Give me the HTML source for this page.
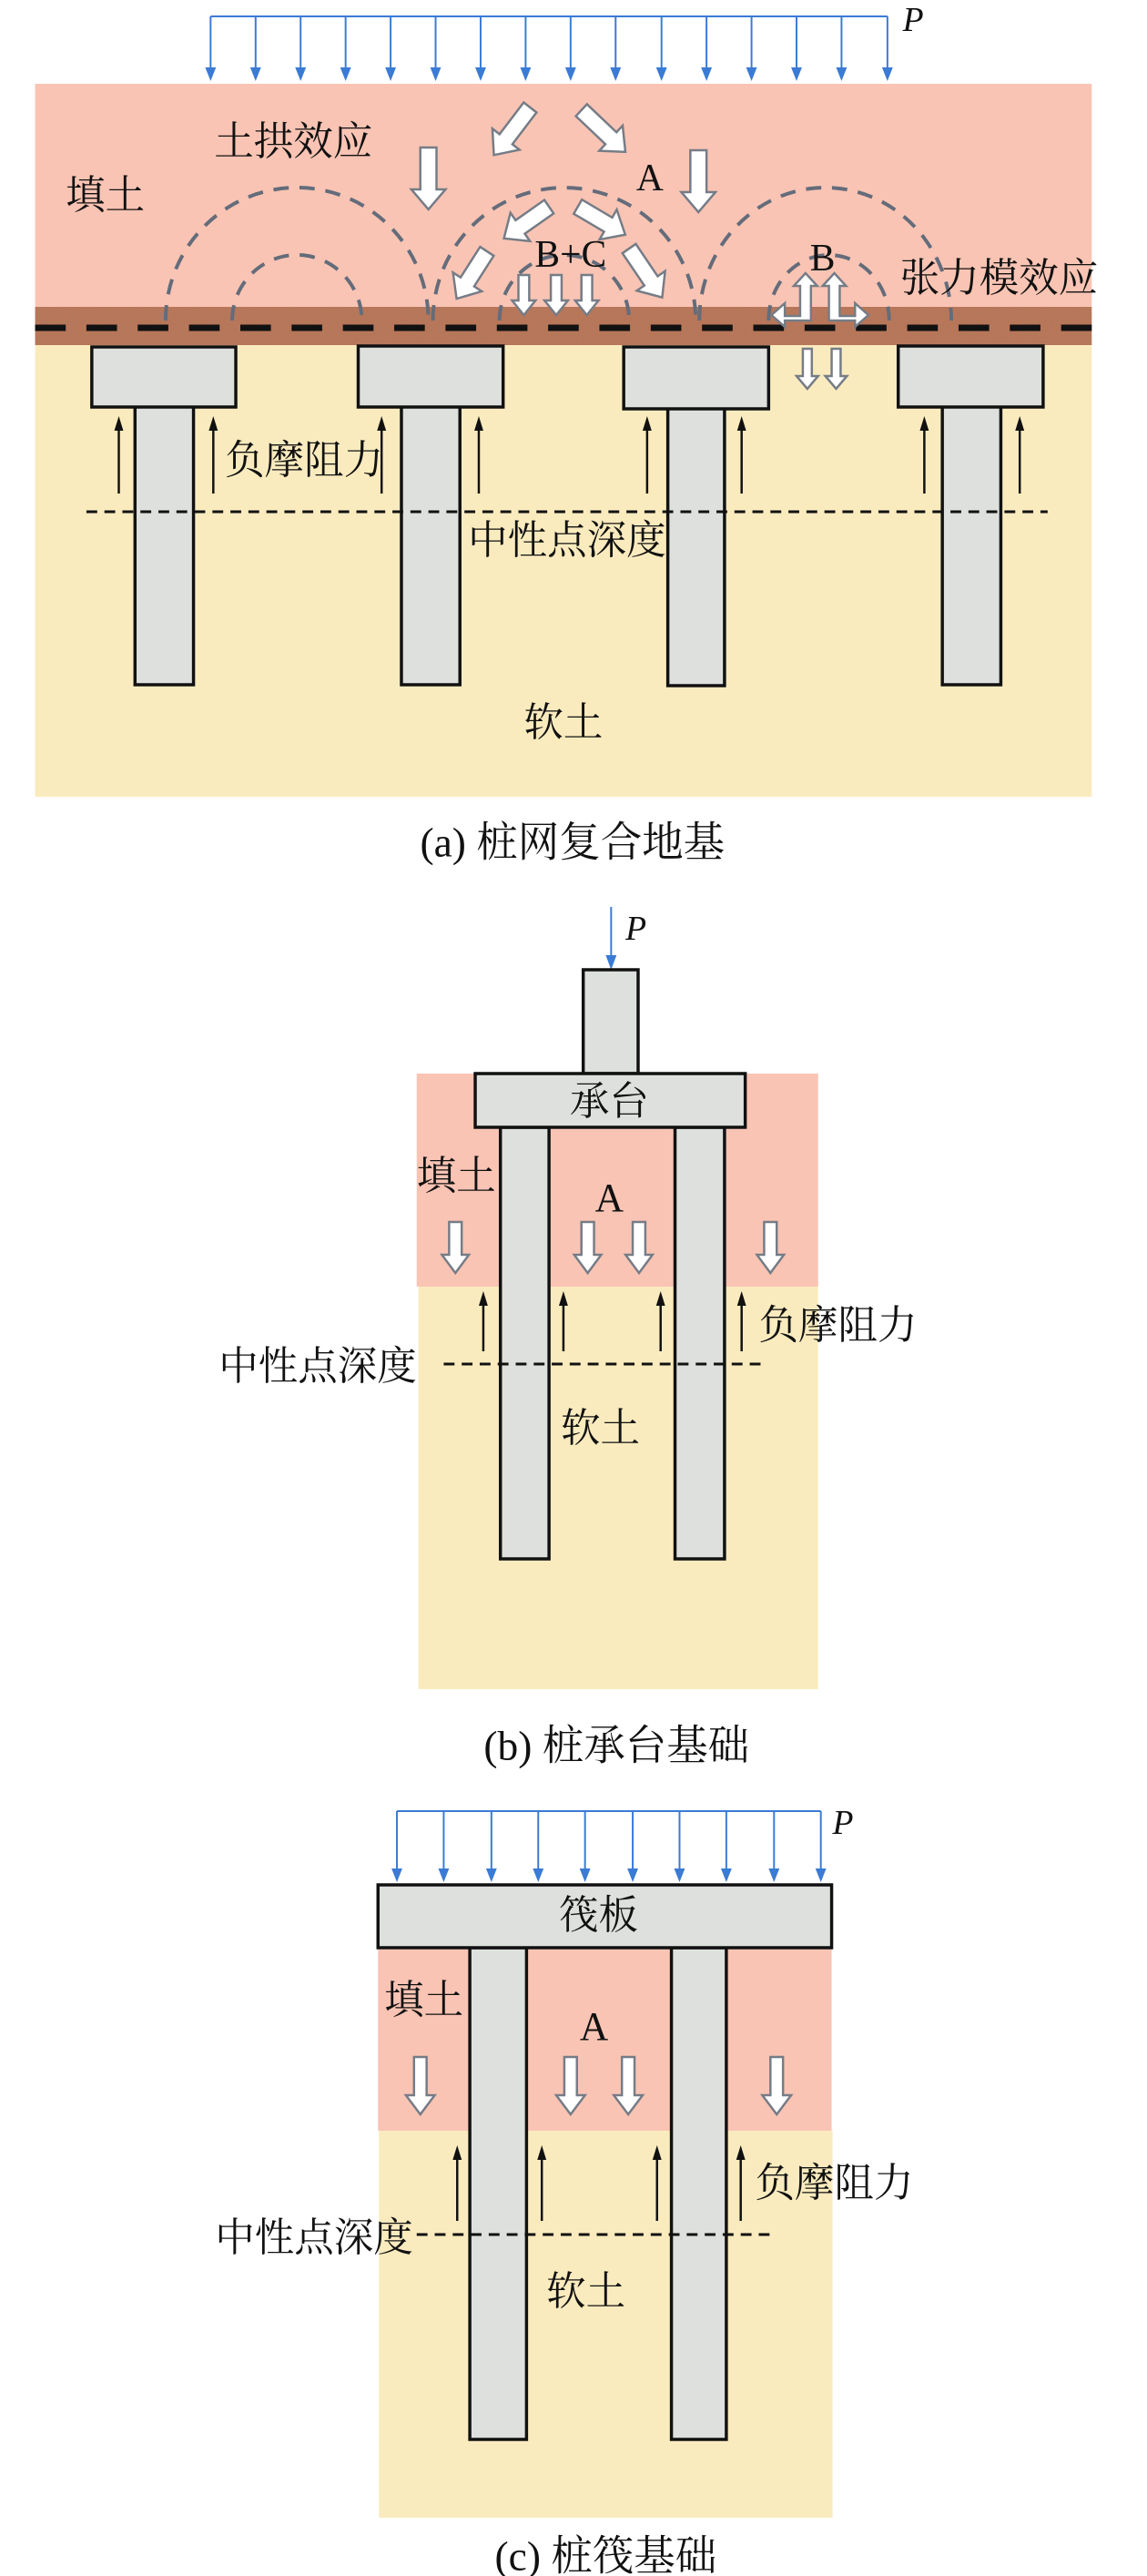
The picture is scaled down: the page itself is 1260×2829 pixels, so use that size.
<!DOCTYPE html>
<html><head><meta charset="utf-8"><style>
html,body{margin:0;padding:0;background:#fff}
svg{display:block}
text{font-family:"Liberation Serif","Noto Serif CJK SC",serif;fill:#111}
</style></head><body>
<svg width="1260" height="2829" viewBox="0 0 1260 2829" xmlns="http://www.w3.org/2000/svg">
<defs>
<filter id="gr" x="0" y="0" width="100%" height="100%">
<feTurbulence type="fractalNoise" baseFrequency="0.4" numOctaves="2" seed="4"/>
<feColorMatrix values="0 0 0 0 0.45  0 0 0 0 0.2  0 0 0 0 0.1  0 0 0 2.2 -0.85"/>
<feComposite in2="SourceGraphic" operator="in"/>
</filter>
</defs>
<g transform="scale(0.9887,1)">
<!-- ============ (a) ============ -->
<rect x="39" y="92" width="1174" height="246" fill="#f9c4b4"/>
<rect x="39" y="378" width="1174" height="497" fill="#faebbe"/>
<rect x="39" y="337" width="1174" height="42" fill="#b8755a"/>
<rect x="39" y="337" width="1174" height="42" fill="#fff" filter="url(#gr)"/>

<g fill="none" stroke="#646c7a" stroke-width="4" stroke-dasharray="17 12">
<path d="M184,352 A146,146 0 0 1 476,352"/>
<path d="M258,352 A72,72 0 0 1 402,352"/>
<path d="M481,352 A146,146 0 0 1 773,352"/>
<path d="M555,352 A72,72 0 0 1 699,352"/>
<path d="M777,352 A140,146 0 0 1 1057,352"/>
<path d="M854,352 A67,72 0 0 1 988,352"/>
</g>

<line x1="39" y1="360" x2="1232" y2="360" stroke="#111" stroke-width="7" stroke-dasharray="34 23"/>

<g stroke="#3a7bd5" stroke-width="2" fill="#3a7bd5">
<path fill="none" d="M234,18H986M234,18V78M284,18V78M334,18V78M384,18V78M434,18V78M484,18V78M534,18V78M584,18V78M634,18V78M684,18V78M735,18V78M785,18V78M835,18V78M885,18V78M935,18V78M986,18V78"/>
<path stroke="none" d="M228,74h12l-6,15zM278,74h12l-6,15zM328,74h12l-6,15zM378,74h12l-6,15zM428,74h12l-6,15zM478,74h12l-6,15zM528,74h12l-6,15zM578,74h12l-6,15zM628,74h12l-6,15zM678,74h12l-6,15zM729,74h12l-6,15zM779,74h12l-6,15zM829,74h12l-6,15zM879,74h12l-6,15zM929,74h12l-6,15zM980,74h12l-6,15z"/>
</g>
<text x="1003" y="34" font-size="38" font-style="italic">P</text>

<g fill="#fff" stroke="#767c86" stroke-width="2.5">
<path transform="translate(476,162)" d="M-9,0H9V46H19L0,68L-19,46H-9Z"/>
<path transform="translate(776,165)" d="M-9,0H9V46H19L0,68L-19,46H-9Z"/>
<path transform="translate(589,118) rotate(37.6)" d="M-9,0H9V44H19L0,66L-19,44H-9Z"/>
<path transform="translate(646,121) rotate(-46.8)" d="M-9,0H9V45H19L0,67L-19,45H-9Z"/>
<path transform="translate(610,227) rotate(55.2)" d="M-9,0H9V39H19L0,61L-19,39H-9Z"/>
<path transform="translate(642,227) rotate(-59.7)" d="M-9,0H9V39H19L0,61L-19,39H-9Z"/>
<path transform="translate(541,276) rotate(32.9)" d="M-9,0H9V40H19L0,62L-19,40H-9Z"/>
<path transform="translate(699,273) rotate(-34.4)" d="M-9,0H9V43H19L0,65L-19,43H-9Z"/>
<path transform="translate(582,302)" d="M-6,0H6V28H13L0,44L-13,28H-6Z"/>
<path transform="translate(618,302)" d="M-6,0H6V28H13L0,44L-13,28H-6Z"/>
<path transform="translate(652,302)" d="M-6,0H6V28H13L0,44L-13,28H-6Z"/>
<path d="M889,347V314H882L895,300L908,314H901V352H872V359L857,346L872,333V347Z"/>
<path d="M933,347V314H940L927,300L914,314H921V352H950V359L965,346L950,333V347Z"/>
<path transform="translate(897,383)" d="M-5,0H5V30H12L0,44L-12,30H-5Z"/>
<path transform="translate(929,383)" d="M-5,0H5V30H12L0,44L-12,30H-5Z"/>
</g>

<g fill="#dde0dc" stroke="#111" stroke-width="3.5">
<rect x="150" y="445" width="65" height="307"/>
<rect x="446" y="445" width="65" height="307"/>
<rect x="742" y="447" width="63" height="306"/>
<rect x="1047" y="445" width="65" height="307"/>
<rect x="102" y="381" width="160" height="66"/>
<rect x="398" y="380" width="161" height="67"/>
<rect x="693" y="381" width="161" height="68"/>
<rect x="998" y="380" width="161" height="67"/>
</g>

<line x1="96" y1="562" x2="1164" y2="562" stroke="#111" stroke-width="3" stroke-dasharray="12 8"/>

<g stroke="#111" stroke-width="2.5" fill="#111">
<path d="M132,542V470M237,542V470M424,542V470M532,542V470M719,542V470M824,542V470M1027,542V470M1133,542V470" fill="none"/>
<path stroke="none" d="M127,473l5,-16l5,16zM232,473l5,-16l5,16zM419,473l5,-16l5,16zM527,473l5,-16l5,16zM714,473l5,-16l5,16zM819,473l5,-16l5,16zM1022,473l5,-16l5,16zM1128,473l5,-16l5,16z"/>
</g>

<g font-size="44" dominant-baseline="central" text-anchor="middle">
<text x="326" y="156">土拱效应</text>
<text x="117" y="215">填土</text>
<text x="338" y="506">负摩阻力</text>
<text x="630" y="594">中性点深度</text>
<text x="626" y="794">软土</text>
<text x="1110" y="306">张力模效应</text>
<text x="636" y="925" font-size="46">(a) 桩网复合地基</text>
</g>
<g font-size="42" dominant-baseline="central" text-anchor="middle">
<text x="722" y="196">A</text>
<text x="634" y="280">B+C</text>
<text x="914" y="284">B</text>
</g>

<!-- ============ (b) ============ -->
<rect x="463" y="1179" width="446" height="234" fill="#f9c4b4"/>
<rect x="465" y="1413" width="444" height="442" fill="#faebbe"/>
<line x1="679" y1="996" x2="679" y2="1052" stroke="#3a7bd5" stroke-width="2"/>
<path d="M673,1049h12l-6,16z" fill="#3a7bd5"/>
<text x="695" y="1032" font-size="38" font-style="italic">P</text>
<g fill="#dde0dc" stroke="#111" stroke-width="3.5">
<rect x="648" y="1065" width="61" height="114"/>
<rect x="556" y="1238" width="54" height="474"/>
<rect x="750" y="1238" width="55" height="474"/>
<rect x="528" y="1179" width="300" height="59"/>
</g>
<g fill="#fff" stroke="#767c86" stroke-width="2.5">
<path transform="translate(506,1342)" d="M-7,0H7V36H15L0,56L-15,36H-7Z"/>
<path transform="translate(653,1342)" d="M-7,0H7V36H15L0,56L-15,36H-7Z"/>
<path transform="translate(710,1342)" d="M-7,0H7V36H15L0,56L-15,36H-7Z"/>
<path transform="translate(856,1342)" d="M-7,0H7V36H15L0,56L-15,36H-7Z"/>
</g>
<line x1="493" y1="1498" x2="850" y2="1498" stroke="#111" stroke-width="3" stroke-dasharray="12 8"/>
<g stroke="#111" stroke-width="2.5" fill="#111">
<path d="M537,1484V1430M626,1484V1430M734,1484V1430M824,1484V1430" fill="none"/>
<path stroke="none" d="M532,1434l5,-16l5,16zM621,1434l5,-16l5,16zM729,1434l5,-16l5,16zM819,1434l5,-16l5,16z"/>
</g>
<g font-size="44" dominant-baseline="central" text-anchor="middle">
<text x="677" y="1210">承台</text>
<text x="507" y="1292">填土</text>
<text x="931" y="1456">负摩阻力</text>
<text x="353" y="1501">中性点深度</text>
<text x="667" y="1569">软土</text>
<text x="685" y="1917" font-size="46">(b) 桩承台基础</text>
<text x="677" y="1316">A</text>
</g>

<!-- ============ (c) ============ -->
<rect x="420" y="2139" width="504" height="201" fill="#f9c4b4"/>
<rect x="421" y="2340" width="504" height="425" fill="#faebbe"/>
<g stroke="#3a7bd5" stroke-width="2" fill="#3a7bd5">
<path fill="none" d="M441,1989H912M441,1989V2056M493,1989V2056M546,1989V2056M598,1989V2056M650,1989V2056M703,1989V2056M755,1989V2056M807,1989V2056M860,1989V2056M912,1989V2056"/>
<path stroke="none" d="M435,2052h12l-6,15zM487,2052h12l-6,15zM540,2052h12l-6,15zM592,2052h12l-6,15zM644,2052h12l-6,15zM697,2052h12l-6,15zM749,2052h12l-6,15zM801,2052h12l-6,15zM854,2052h12l-6,15zM906,2052h12l-6,15z"/>
</g>
<text x="925" y="2014" font-size="38" font-style="italic">P</text>
<g fill="#dde0dc" stroke="#111" stroke-width="3.5">
<rect x="522" y="2139" width="63" height="540"/>
<rect x="746" y="2139" width="61" height="540"/>
<rect x="420" y="2070" width="504" height="69"/>
</g>
<g fill="#fff" stroke="#767c86" stroke-width="2.5">
<path transform="translate(467,2259)" d="M-7,0H7V42H16L0,63L-16,42H-7Z"/>
<path transform="translate(634,2259)" d="M-7,0H7V42H16L0,63L-16,42H-7Z"/>
<path transform="translate(698,2259)" d="M-7,0H7V42H16L0,63L-16,42H-7Z"/>
<path transform="translate(863,2259)" d="M-7,0H7V42H16L0,63L-16,42H-7Z"/>
</g>
<line x1="463" y1="2454" x2="862" y2="2454" stroke="#111" stroke-width="3" stroke-dasharray="12 8"/>
<g stroke="#111" stroke-width="2.5" fill="#111">
<path d="M508,2439V2368M602,2439V2368M730,2439V2368M823,2439V2368" fill="none"/>
<path stroke="none" d="M503,2372l5,-16l5,16zM597,2372l5,-16l5,16zM725,2372l5,-16l5,16zM818,2372l5,-16l5,16z"/>
</g>
<g font-size="44" dominant-baseline="central" text-anchor="middle">
<text x="665" y="2104">筏板</text>
<text x="471" y="2197">填土</text>
<text x="927" y="2398">负摩阻力</text>
<text x="349" y="2458">中性点深度</text>
<text x="651" y="2517">软土</text>
<text x="673" y="2807" font-size="46">(c) 桩筏基础</text>
<text x="660" y="2226">A</text>
</g>
</g>
</svg>
</body></html>
